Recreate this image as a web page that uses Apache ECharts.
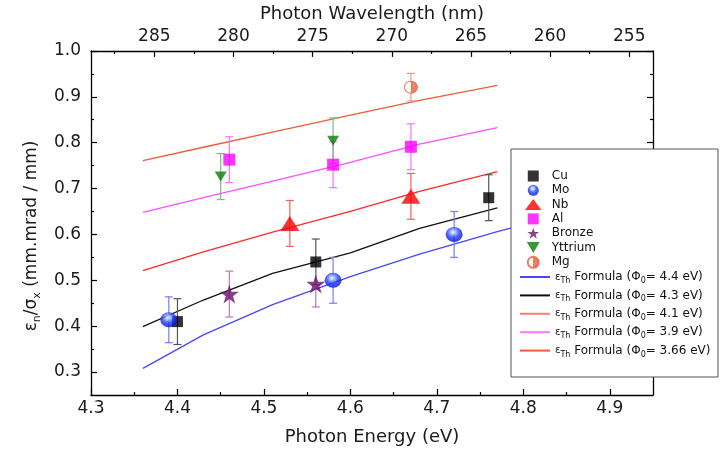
<!DOCTYPE html>
<html>
<head>
<meta charset="utf-8">
<title>Emittance vs photon energy</title>
<script src="https://cdn.jsdelivr.net/npm/echarts@6/dist/echarts.min.js"></script>
<style>
  html, body { margin: 0; background: #fff; }
  #chart { width: 723px; height: 452px; }
</style>
</head>
<body>
<div id="chart"></div>
<script>
// measured emittance per beam size (mm.mrad / mm) vs photon energy (eV)
const cuE = [4.40, 4.56, 4.76], cuV = [0.41, 0.54, 0.68], cuErr = [0.05, 0.05, 0.05];
const moE = [4.39, 4.58, 4.72], moV = [0.414, 0.50, 0.60], moErr = [0.05, 0.05, 0.05];
const nbE = [4.53, 4.67], nbV = [0.624, 0.683], nbErr = [0.05, 0.05];
const alE = [4.46, 4.58, 4.67], alV = [0.763, 0.752, 0.791], alErr = [0.05, 0.05, 0.05];
const bronzeE = [4.46, 4.56], bronzeV = [0.470, 0.492], bronzeErr = [0.05, 0.05];
const yE = [4.45, 4.58], yV = [0.726, 0.804], yErr = [0.05, 0.05];
const mgE = [4.67], mgV = [0.921], mgErr = [0.03];

// thermal emittance formula curves for each work function
const formulaE = [4.36, 4.43, 4.51, 4.60, 4.68, 4.77];
const phi44E = [4.36, 4.43, 4.51, 4.60, 4.68, 4.77, 4.86];
const phi44 = [0.308, 0.381, 0.447, 0.508, 0.557, 0.606, 0.651];
const phi43 = [0.399, 0.457, 0.515, 0.560, 0.613, 0.658];
const phi41 = [0.521, 0.562, 0.605, 0.650, 0.694, 0.737];
const phi39 = [0.648, 0.680, 0.716, 0.757, 0.797, 0.833];
const phi366 = [0.761, 0.790, 0.823, 0.860, 0.892, 0.925];

// tick labels
const energyTicks = [4.3, 4.4, 4.5, 4.6, 4.7, 4.8, 4.9];
const energyMinor = [4.35, 4.45, 4.55, 4.65, 4.75, 4.85];
const waveTicks = [285, 280, 275, 270, 265, 260, 255];
const waveMinor = [287.5, 282.5, 277.5, 272.5, 267.5, 262.5, 257.5];
const yTicks = [0.3, 0.4, 0.5, 0.6, 0.7, 0.8, 0.9, 1.0];
const yMinor = [0.35, 0.45, 0.55, 0.65, 0.75, 0.85, 0.95];

const FONT = 'DejaVu Sans';
const chart = echarts.init(document.getElementById('chart'), null, { renderer: 'canvas' });

function pairs(xs, ys) {
  return xs.map((x, i) => [x, ys[i]]);
}

function errBars(name, xs, ys, errs, color) {
  return {
    type: 'custom',
    name: name + ' err',
    xAxisIndex: 0,
    yAxisIndex: 0,
    z: 3,
    silent: true,
    data: xs.map((x, i) => [x, ys[i], errs[i]]),
    encode: { x: 0, y: 1 },
    renderItem: (params, api) => {
      const x = api.value(0), y = api.value(1), e = api.value(2);
      const top = api.coord([x, y + e]);
      const bot = api.coord([x, y - e]);
      const w = 4;
      const st = { stroke: color, lineWidth: 1.2 };
      return {
        type: 'group',
        children: [
          { type: 'line', shape: { x1: top[0], y1: top[1], x2: bot[0], y2: bot[1] }, style: st },
          { type: 'line', shape: { x1: top[0] - w, y1: top[1], x2: top[0] + w, y2: top[1] }, style: st },
          { type: 'line', shape: { x1: bot[0] - w, y1: bot[1], x2: bot[0] + w, y2: bot[1] }, style: st }
        ]
      };
    }
  };
}

function points(name, xs, ys, symbol, size, color, border) {
  return {
    type: 'scatter',
    name: name,
    xAxisIndex: 0,
    yAxisIndex: 0,
    z: 5,
    symbol: symbol,
    symbolSize: size,
    itemStyle: border ? { color: color, borderColor: border, borderWidth: 1 } : { color: color },
    data: pairs(xs, ys)
  };
}

function curve(name, xs, ys, color) {
  return {
    type: 'line',
    name: name,
    xAxisIndex: 0,
    yAxisIndex: 0,
    z: 2,
    symbol: 'none',
    silent: true,
    lineStyle: { color: color, width: 1.3 },
    itemStyle: { color: color },
    data: pairs(xs, ys)
  };
}

const moBall = {
  type: 'radial', x: 0.45, y: 0.35, r: 0.7,
  colorStops: [
    { offset: 0, color: '#ffffff' },
    { offset: 0.2, color: '#9db8ff' },
    { offset: 0.5, color: '#1f3dff' },
    { offset: 1, color: '#0008c8' }
  ]
};
const mgHalf = {
  type: 'linear', x: 0, y: 0, x2: 1, y2: 0,
  colorStops: [
    { offset: 0, color: '#ffffff' },
    { offset: 0.5, color: '#ffffff' },
    { offset: 0.5, color: '#e8623f' },
    { offset: 1, color: '#e8623f' }
  ]
};
const squarePath = 'path://M0,0 L10,0 L10,10 L0,10 Z';
const upTri = 'path://M0,10 L7.5,0 L15,10 Z';
const downTri = 'path://M0,0 L10,0 L5,8.5 Z';
const star = 'path://M50,0 L61.8,35.5 L100,35.5 L69.1,57.5 L80.9,93 L50,71 L19.1,93 L30.9,57.5 L0,35.5 L38.2,35.5 Z';

function frameAxis(extra) {
  return Object.assign({
    type: 'value',
    gridIndex: 0,
    splitLine: { show: false },
    axisLine: { show: false, onZero: false, lineStyle: { color: '#000', width: 1.3 } },
    axisTick: { show: true, inside: true, length: 6, lineStyle: { color: '#000', width: 1.2 } },
    axisLabel: { show: false }
  }, extra);
}

const labelStyle = { fontFamily: FONT, fontSize: 17, color: '#1a1a1a' };

const option = {
  backgroundColor: '#fff',
  animation: false,
  grid: { left: 91, right: 70, top: 49, bottom: 57 },
  xAxis: [
    frameAxis({
      position: 'bottom', min: 4.3, max: 4.95,
      axisLine: { show: true, onZero: false, lineStyle: { color: '#000', width: 1.3 } },
      axisTick: { show: true, inside: true, length: 6, customValues: energyTicks, lineStyle: { color: '#000', width: 1.2 } },
      axisLabel: Object.assign({ show: true, margin: 5, customValues: energyTicks, formatter: v => v.toFixed(1) }, labelStyle),
      name: 'Photon Energy (eV)', nameLocation: 'middle', nameGap: 33,
      nameTextStyle: { fontFamily: FONT, fontSize: 18, color: '#1a1a1a' }
    }),
    frameAxis({
      position: 'bottom', min: 4.3, max: 4.95,
      axisTick: { show: true, inside: true, length: 3, customValues: energyMinor, lineStyle: { color: '#000', width: 1.2 } }
    }),
    frameAxis({
      position: 'top', min: 253.5, max: 289, inverse: true,
      axisLine: { show: true, onZero: false, lineStyle: { color: '#000', width: 1.3 } },
      axisTick: { show: true, inside: true, length: 6, customValues: waveTicks, lineStyle: { color: '#000', width: 1.2 } },
      axisLabel: Object.assign({ show: true, margin: 6, customValues: waveTicks, formatter: v => String(v) }, labelStyle),
      name: 'Photon Wavelength (nm)', nameLocation: 'middle', nameGap: 22,
      nameTextStyle: { fontFamily: FONT, fontSize: 18, color: '#1a1a1a' }
    }),
    frameAxis({
      position: 'top', min: 253.5, max: 289, inverse: true,
      axisTick: { show: true, inside: true, length: 3, customValues: waveMinor, lineStyle: { color: '#000', width: 1.2 } }
    })
  ],
  yAxis: [
    frameAxis({
      position: 'left', min: 0.25, max: 1.0,
      axisLine: { show: true, onZero: false, lineStyle: { color: '#000', width: 1.3 } },
      axisTick: { show: true, inside: true, length: 6, customValues: yTicks, lineStyle: { color: '#000', width: 1.2 } },
      axisLabel: Object.assign({ show: true, margin: 10, customValues: yTicks, formatter: v => v.toFixed(1) }, labelStyle),
      name: '{t|ε}{s|n}{t|/σ}{s|x}{t| (mm.mrad / mm)}',
      nameLocation: 'middle', nameGap: 47,
      nameTextStyle: {
        fontFamily: FONT, color: '#1a1a1a', padding: [0, 26, 0, 0],
        rich: {
          t: { fontFamily: FONT, fontSize: 17, color: '#1a1a1a', lineHeight: 22 },
          s: { fontFamily: FONT, fontSize: 11, color: '#1a1a1a', lineHeight: 12, verticalAlign: 'bottom' }
        }
      }
    }),
    frameAxis({
      position: 'left', min: 0.25, max: 1.0,
      axisTick: { show: true, inside: true, length: 3, customValues: yMinor, lineStyle: { color: '#000', width: 1.2 } }
    }),
    frameAxis({
      position: 'right', min: 0.25, max: 1.0,
      axisLine: { show: true, onZero: false, lineStyle: { color: '#000', width: 1.3 } },
      axisTick: { show: true, inside: true, length: 6, customValues: yTicks, lineStyle: { color: '#000', width: 1.2 } }
    }),
    frameAxis({
      position: 'right', min: 0.25, max: 1.0,
      axisTick: { show: true, inside: true, length: 3, customValues: yMinor, lineStyle: { color: '#000', width: 1.2 } }
    })
  ],
  graphic: {
    elements: [{
      type: 'rect', z: 50,
      shape: { x: 511, y: 149, width: 207, height: 228 },
      style: { fill: '#fff', stroke: '#555', lineWidth: 1 }
    }]
  },
  legend: [
    {
      orient: 'vertical', left: 525, top: 170, padding: 0, z: 60,
      itemWidth: 27, itemHeight: 11, itemGap: 2.3, selectedMode: false,
      textStyle: { fontFamily: FONT, fontSize: 12, color: '#111', lineHeight: 11 },
      data: [
        { name: 'Cu', icon: squarePath },
        { name: 'Mo', icon: 'circle' },
        { name: 'Nb', icon: upTri },
        { name: 'Al', icon: squarePath },
        { name: 'Bronze', icon: star },
        { name: 'Yttrium', icon: downTri },
        { name: 'Mg', icon: 'circle' }
      ]
    },
    {
      orient: 'vertical', left: 520, top: 271, padding: 0, z: 60,
      itemWidth: 30, itemHeight: 2, itemGap: 4.4, selectedMode: false,
      formatter: name => '{e|ε}{s|Th}{t| Formula (Φ}{s|0}{t|= ' + name + ' eV)}',
      textStyle: {
        fontFamily: FONT, fontSize: 12, color: '#111',
        rich: {
          t: { fontFamily: FONT, fontSize: 12, color: '#111', lineHeight: 16 },
          e: { fontFamily: FONT, fontSize: 10, color: '#111', lineHeight: 16 },
          s: { fontFamily: FONT, fontSize: 8, color: '#111', lineHeight: 10, verticalAlign: 'bottom' }
        }
      },
      data: [
        { name: '4.4', icon: 'rect' },
        { name: '4.3', icon: 'rect' },
        { name: '4.1', icon: 'rect', itemStyle: { color: '#ff7a7a' } },
        { name: '3.9', icon: 'rect', itemStyle: { color: '#ff77ff' } },
        { name: '3.66', icon: 'rect' }
      ]
    }
  ],
  series: [
    curve('4.4', phi44E, phi44, '#4646ff'),
    curve('4.3', formulaE, phi43, '#111111'),
    curve('4.1', formulaE, phi41, '#ff2a2a'),
    curve('3.9', formulaE, phi39, '#ff50ff'),
    curve('3.66', formulaE, phi366, '#f05a38'),
    errBars('Cu', cuE, cuV, cuErr, '#555555'),
    errBars('Mo', moE, moV, moErr, '#7a7aff'),
    errBars('Nb', nbE, nbV, nbErr, '#ff5a5a'),
    errBars('Al', alE, alV, alErr, '#ff70ff'),
    errBars('Bronze', bronzeE, bronzeV, bronzeErr, '#b77ab7'),
    errBars('Yttrium', yE, yV, yErr, '#7fba7f'),
    errBars('Mg', mgE, mgV, mgErr, '#f29a85'),
    points('Cu', cuE, cuV, squarePath, 11, '#000000'),
    points('Mo', moE, moV, 'circle', [17, 15], moBall),
    points('Nb', nbE, nbV, upTri, [19, 15], '#ff0000'),
    points('Al', alE, alV, squarePath, 12, '#ff00ff'),
    points('Bronze', bronzeE, bronzeV, star, 19, '#6b0f6b'),
    points('Yttrium', yE, yV, downTri, [12, 10], '#0b7d0b'),
    points('Mg', mgE, mgV, 'circle', [13, 12], mgHalf, '#e8623f')
  ]
};

chart.setOption(option);
</script>
</body>
</html>
